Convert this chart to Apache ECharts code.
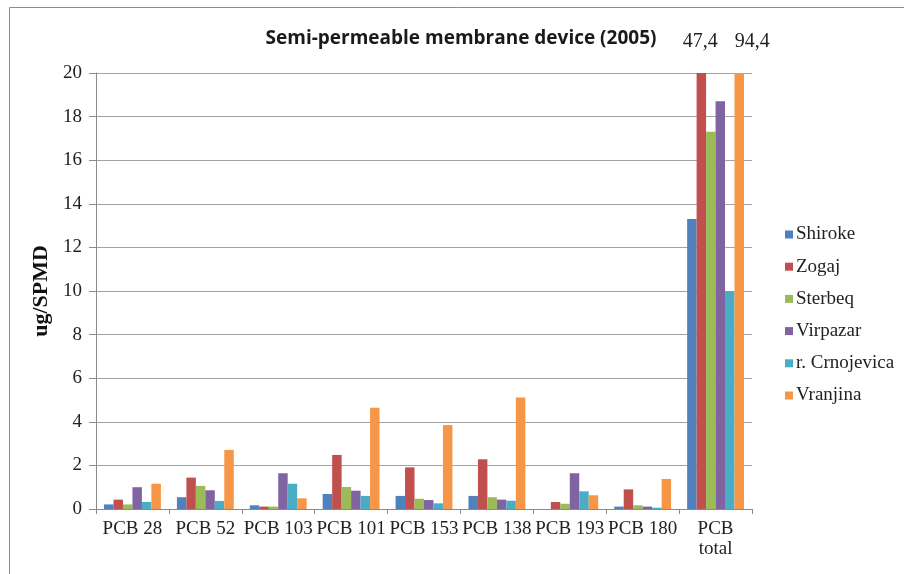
<!DOCTYPE html>
<html>
<head>
<meta charset="utf-8">
<script src="https://cdn.jsdelivr.net/npm/echarts@6/dist/echarts.min.js"></script>
<style>html,body{margin:0;padding:0;background:#fff;}#c{width:904px;height:574px;}</style>
</head>
<body>
<div id="c"></div>
<script>
const categories = ['PCB 28','PCB 52','PCB 103','PCB 101','PCB 153','PCB 138','PCB 193','PCB 180','PCB total'];
const shiroke    = [0.21, 0.54, 0.17, 0.69, 0.60, 0.60, 0.00, 0.11, 13.3];
const zogaj      = [0.43, 1.44, 0.11, 2.48, 1.91, 2.28, 0.32, 0.90, 47.4];
const sterbeq    = [0.21, 1.06, 0.11, 1.01, 0.47, 0.54, 0.24, 0.17, 17.3];
const virpazar   = [1.00, 0.86, 1.64, 0.84, 0.41, 0.43, 1.64, 0.11, 18.7];
const crnojevica = [0.32, 0.37, 1.16, 0.60, 0.26, 0.38, 0.81, 0.06, 10.0];
const vranjina   = [1.16, 2.71, 0.49, 4.65, 3.85, 5.12, 0.63, 1.38, 94.4];
const seriesNames = ['Shiroke','Zogaj','Sterbeq','Virpazar','r. Crnojevica','Vranjina'];
const seriesData = [shiroke, zogaj, sterbeq, virpazar, crnojevica, vranjina];
const colors = ['#4F81BD','#C0504D','#9BBB59','#8064A2','#4BACC6','#F79646'];
const yTicks = {min: 0, max: 20, interval: 2};
const offscaleLabels = [{series: 1, text: '47,4', dx: -1}, {series: 5, text: '94,4', dx: 13}];

const serif = '"Liberation Serif", "DejaVu Serif", serif';
const chart = echarts.init(document.getElementById('c'));
chart.setOption({
  animation: false,
  color: colors,
  title: {
    text: 'Semi-permeable membrane device (2005)',
    left: 456, top: 24, textAlign: 'center',
    textStyle: {fontFamily: '"Open Sans", sans-serif', fontWeight: 'bold', fontSize: 19, color: '#1a1a1a'}
  },
  grid: {left: 96, right: 152, top: 73, bottom: 65},
  legend: {
    orient: 'vertical', left: 780, top: 220,
    itemWidth: 8, itemHeight: 8, itemGap: 13.2, icon: 'rect',
    textStyle: {fontFamily: serif, fontSize: 19, color: '#222', padding: [0,0,0,-2]},
    data: seriesNames
  },
  xAxis: {
    type: 'category', data: categories,
    axisLine: {lineStyle: {color: '#8a8a8a'}},
    axisTick: {show: true, alignWithLabel: false, length: 5, lineStyle: {color: '#8a8a8a'}},
    axisLabel: {
      fontFamily: serif, fontSize: 19, color: '#222', margin: 10, lineHeight: 20, interval: 0,
      formatter: v => v === 'PCB total' ? 'PCB\ntotal' : v
    }
  },
  yAxis: {
    type: 'value', min: yTicks.min, max: yTicks.max, interval: yTicks.interval,
    name: 'ug/SPMD', nameLocation: 'middle', nameGap: 39,
    nameTextStyle: {fontFamily: serif, fontSize: 22, fontWeight: 'bold', color: '#111'},
    axisLine: {show: true, lineStyle: {color: '#8a8a8a'}},
    axisTick: {show: true, length: 7, lineStyle: {color: '#8a8a8a'}},
    axisLabel: {fontFamily: serif, fontSize: 19, color: '#222', margin: 14},
    splitLine: {lineStyle: {color: '#a3a3a3', width: 1}}
  },
  series: seriesNames.map((n, i) => ({
    name: n, type: 'bar', data: seriesData[i],
    barGap: '0%', barCategoryGap: '22%', clip: true
  }))
});

// labels for bars that run past the axis maximum
const extra = offscaleLabels.map(o => {
  const d = chart.getModel().getSeriesByIndex(o.series).getData();
  const rect = d.getItemLayout(categories.length - 1);
  const topPx = chart.convertToPixel({yAxisIndex: 0}, yTicks.max);
  return {
    type: 'text',
    x: rect.x + rect.width / 2 + o.dx, y: topPx - 31,
    style: {text: o.text, fontFamily: serif, fontSize: 20, fill: '#222', align: 'center', verticalAlign: 'middle'}
  };
});
chart.setOption({graphic: [
  {type: 'line', shape: {x1: 9.5, y1: 7.5, x2: 904, y2: 7.5}, style: {stroke: '#8c8c8c', lineWidth: 1}},
  {type: 'line', shape: {x1: 9.5, y1: 7.5, x2: 9.5, y2: 574}, style: {stroke: '#8c8c8c', lineWidth: 1}}
].concat(extra)});
</script>
</body>
</html>
